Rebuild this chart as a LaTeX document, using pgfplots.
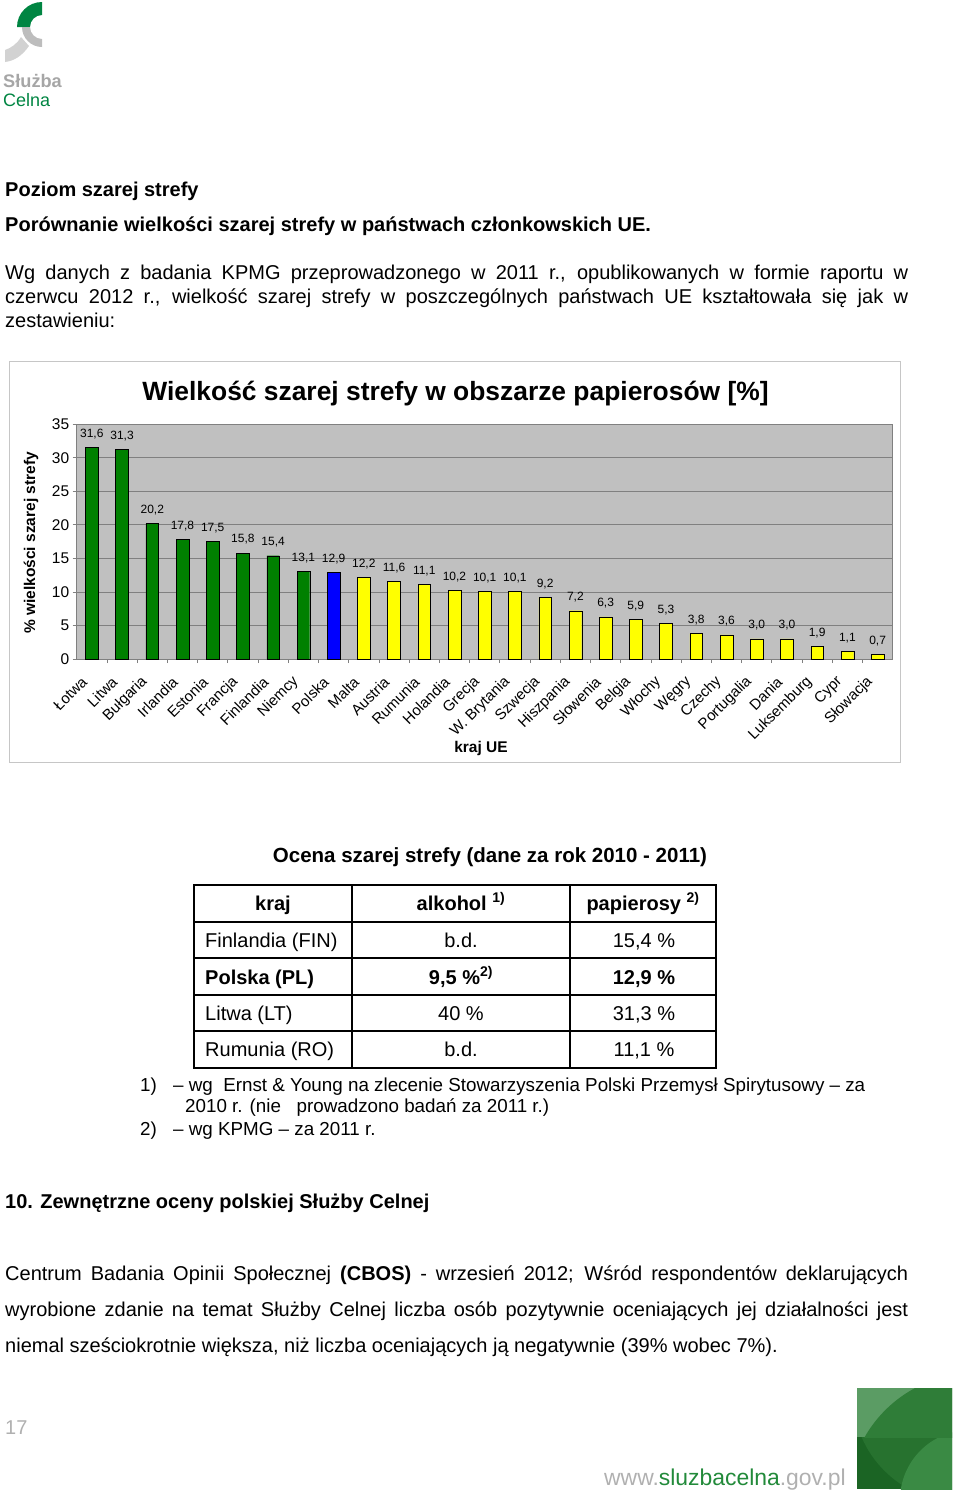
\documentclass[border=0pt]{standalone}
\usepackage{fontspec}
\setmainfont{Liberation Sans}
\usepackage{pgfplots}
\pgfplotsset{compat=1.18}
\newcommand{\fs}[1]{\fontsize{#1pt}{#1pt}\selectfont}
\definecolor{bgreen}{RGB}{0,128,0}
\definecolor{byellow}{RGB}{255,255,0}
\definecolor{bblue}{RGB}{0,0,255}
\definecolor{plotbg}{RGB}{192,192,192}
\definecolor{gridc}{RGB}{128,128,128}
\definecolor{logogreen}{RGB}{0,133,66}
\definecolor{logogray}{RGB}{166,166,166}
\definecolor{urlgreen}{RGB}{34,138,58}
\definecolor{urlgray}{RGB}{176,176,176}
\definecolor{sqmid}{RGB}{47,125,56}
\definecolor{sqlight}{RGB}{91,156,100}
\definecolor{sqdarkest}{RGB}{27,100,36}
\definecolor{sqdark}{RGB}{39,114,47}
\definecolor{sqlight2}{RGB}{58,138,68}
\begin{document}
\begin{tikzpicture}[x=1pt,y=1pt]
\path[use as bounding box] (0,0) rectangle (960,-1494);
% ---- logo ----
\fill[gray!35] (5,-50) .. controls (11,-48) and (17,-44) .. (21,-37) -- (29,-46) .. controls (22,-56) and (14,-61) .. (5,-62) -- cycle;
\fill[logogreen] (42,-2) arc[start angle=90,end angle=180,radius=25] -- (30,-27) arc[start angle=180,end angle=90,radius=12] -- cycle;
\fill[gray!60, opacity=0.85] (22,-27) arc[start angle=180,end angle=270,radius=20] -- (42,-39) arc[start angle=270,end angle=180,radius=12] -- cycle;
\node[anchor=base west, inner sep=0, text=logogray, font=\fs{18.2}\bfseries] at (3,-87) {Służba};
\node[anchor=base west, inner sep=0, text=logogreen, font=\fs{18}] at (3,-106) {Celna};
% ---- heading text ----
\node[anchor=base west, inner sep=0, font=\fs{20}\bfseries] at (5,-196) {Poziom szarej strefy};
\node[anchor=base west, inner sep=0, font=\fs{20}\bfseries] at (5,-231) {Porównanie wielkości szarej strefy w państwach członkowskich UE.};
\node[anchor=north west, inner sep=0, text width=903pt, align=justify, font={\fontsize{20pt}{24pt}\selectfont}] at (5,-262.2)
 {\strut Wg danych z badania KPMG przeprowadzonego w 2011 r., opublikowanych w formie raportu w\linebreak czerwcu 2012 r., wielkość szarej strefy w poszczególnych państwach UE kształtowała się jak w\linebreak zestawieniu:};
% ---- chart frame ----
\draw[gray!45, line width=1pt, fill=white] (9,-361) rectangle (900,-762);
\node[anchor=base, inner sep=0, font=\fs{26.4}\bfseries] at (455.5,-400) {Wielkość szarej strefy w obszarze papierosów [\%]};
\node[rotate=90, inner sep=0, font=\fs{15.5}\bfseries] at (31,-543) {\% wielkości szarej strefy};
\node[inner sep=0, font=\fs{15.5}\bfseries] at (481,-748) {kraj UE};
\begin{axis}[
  at={(76.7pt,-659pt)}, anchor=south west,
  scale only axis, width=816pt, height=234.7pt,
  xmin=-0.5, xmax=26.5, ymin=0, ymax=35,
  axis background/.style={fill=plotbg},
  axis line style={draw=gridc, line width=0.8pt},
  ymajorgrids, grid style={draw=gridc, line width=0.8pt},
  ytick={0,5,...,35}, ytick pos=left, xtick pos=bottom,
  tick align=outside, major tick length=4pt, minor tick length=4pt,
  tick style={gridc, line width=0.8pt},
  xtick={0,...,26},
  xticklabels={Łotwa,Litwa,Bułgaria,Irlandia,Estonia,Francja,Finlandia,Niemcy,Polska,Malta,Austria,Rumunia,Holandia,Grecja,W. Brytania,Szwecja,Hiszpania,Słowenia,Belgia,Włochy,Węgry,Czechy,Portugalia,Dania,Luksemburg,Cypr,Słowacja},
  major x tick style={draw=none},
  minor x tick num=1,
  xticklabel style={xshift=-5pt, yshift=-14pt, rotate=45, anchor=east, font=\fs{15}},
  yticklabel style={font=\fs{15.5}},
  /pgf/number format/assume math mode=true,
  ybar, bar width=12.7pt,
  nodes near coords={\pgfmathprintnumber[fixed,fixed zerofill,precision=1,use comma]{\pgfplotspointmeta}},
  every node near coord/.append style={font=\fs{12}, yshift=5pt},
  clip=false,
]
\addplot[fill=bgreen, draw=black, bar shift=0pt] coordinates {(0,31.6) (1,31.3) (2,20.2) (3,17.8) (4,17.5) (5,15.8) (6,15.4) (7,13.1)};
\addplot[fill=bblue, draw=black, bar shift=0pt] coordinates {(8,12.9)};
\addplot[fill=byellow, draw=black, bar shift=0pt] coordinates {(9,12.2) (10,11.6) (11,11.1) (12,10.2) (13,10.1) (14,10.1) (15,9.2) (16,7.2) (17,6.3) (18,5.9) (19,5.3) (20,3.8) (21,3.6) (22,3.0) (23,3.0) (24,1.9) (25,1.1) (26,0.7)};
\end{axis}
% ---- table ----
\node[anchor=base, inner sep=0, font=\fs{20.5}\bfseries] at (490,-862) {Ocena szarej strefy (dane za rok 2010 - 2011)};
\draw[line width=1.2pt] (194,-885) rectangle (716,-1068);
\foreach \yy in {922,958,995,1031} \draw[line width=1.2pt] (194,-\yy) -- (716,-\yy);
\foreach \xx in {352,570} \draw[line width=1.2pt] (\xx,-885) -- (\xx,-1068);
\node[anchor=base, inner sep=0, font=\fs{20}\bfseries] at (273,-910) {kraj};
\node[anchor=base, inner sep=0, font=\fs{20}\bfseries] at (461,-910) {alkohol \textsuperscript{1)}};
\node[anchor=base, inner sep=0, font=\fs{20}\bfseries] at (643,-910) {papierosy \textsuperscript{2)}};
\node[anchor=base west, inner sep=0, font=\fs{20}] at (205,-947) {Finlandia (FIN)};
\node[anchor=base, inner sep=0, font=\fs{20}] at (461,-947) {b.d.};
\node[anchor=base, inner sep=0, font=\fs{20}] at (644,-947) {15,4 \%};
\node[anchor=base west, inner sep=0, font=\fs{20}\bfseries] at (205,-984) {Polska (PL)};
\node[anchor=base, inner sep=0, font=\fs{20}\bfseries] at (461,-984) {9,5 \%\textsuperscript{2)}};
\node[anchor=base, inner sep=0, font=\fs{20}\bfseries] at (644,-984) {12,9 \%};
\node[anchor=base west, inner sep=0, font=\fs{20}] at (205,-1020) {Litwa (LT)};
\node[anchor=base, inner sep=0, font=\fs{20}] at (461,-1020) {40 \%};
\node[anchor=base, inner sep=0, font=\fs{20}] at (644,-1020) {31,3 \%};
\node[anchor=base west, inner sep=0, font=\fs{20}] at (205,-1056) {Rumunia (RO)};
\node[anchor=base, inner sep=0, font=\fs{20}] at (461,-1056) {b.d.};
\node[anchor=base, inner sep=0, font=\fs{20}] at (644,-1056) {11,1 \%};
% ---- footnotes ----
\node[anchor=base west, inner sep=0, font=\fs{18.8}] at (140,-1091) {1)};
\node[anchor=base west, inner sep=0, font=\fs{18.8}] at (173,-1091) {– wg\ \ Ernst \& Young na zlecenie Stowarzyszenia Polski Przemysł Spirytusowy – za};
\node[anchor=base west, inner sep=0, font=\fs{18.8}] at (185,-1112) {2010 r. (nie\ \ \ prowadzono badań za 2011 r.)};
\node[anchor=base west, inner sep=0, font=\fs{18.8}] at (140,-1135) {2)};
\node[anchor=base west, inner sep=0, font=\fs{18.8}] at (173,-1135) {– wg KPMG – za 2011 r.};
% ---- section 10 ----
\node[anchor=base west, inner sep=0, font=\fs{20}\bfseries] at (5,-1208) {10. Zewnętrzne oceny polskiej Służby Celnej};
\node[anchor=north west, inner sep=0, text width=903pt, align=justify, font={\fontsize{20pt}{36pt}\selectfont}] at (5,-1254.8)
 {\strut Centrum Badania Opinii Społecznej \textbf{(CBOS)} - wrzesień 2012; Wśród respondentów deklarujących\linebreak wyrobione zdanie na temat Służby Celnej liczba osób pozytywnie oceniających jej działalności jest\linebreak niemal sześciokrotnie większa, niż liczba oceniających ją negatywnie (39\% wobec 7\%).};
% ---- footer ----
\node[anchor=base west, inner sep=0, text=urlgray, font=\fs{20}] at (5,-1434) {17};
\node[anchor=base west, inner sep=0, font=\fs{22.9}] at (604,-1485) {\textcolor{urlgray}{www.}\textcolor{urlgreen}{sluzbacelna}\textcolor{urlgray}{.gov.pl}};
\begin{scope}
\clip (857,-1388) rectangle (952,-1489);
\fill[sqdarkest] (857,-1437) rectangle (952,-1489);
\fill[sqdark] (960,-1395) circle[radius=107];
\fill[sqlight2] (970,-1500) circle[radius=70];
\begin{scope}
\clip (857,-1388) rectangle (952,-1437);
\fill[sqlight] (857,-1388) rectangle (952,-1437);
\fill[sqmid] (975,-1500) circle[radius=127];
\end{scope}
\end{scope}
\end{tikzpicture}
\end{document}
